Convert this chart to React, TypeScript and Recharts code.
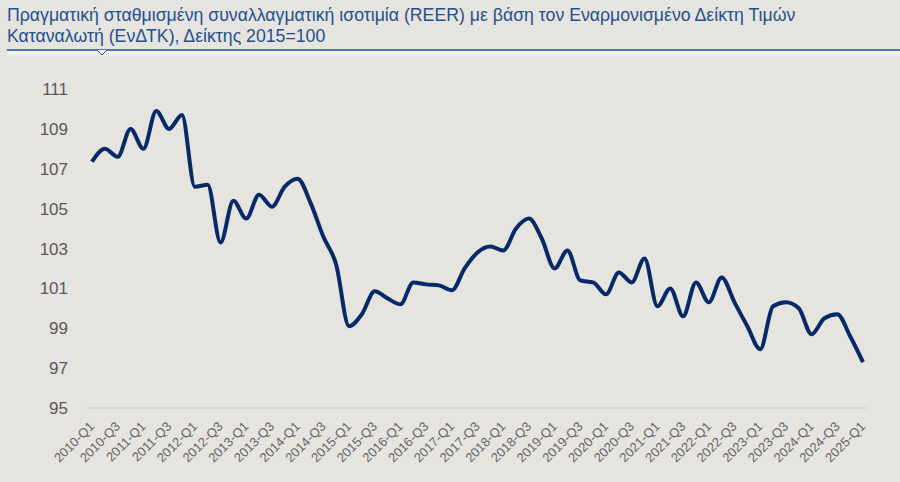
import { LineChart, Line, XAxis, YAxis } from "recharts";

const years = [
    2010, 2011, 2012, 2013, 2014, 2015, 2016, 2017,
    2018, 2019, 2020, 2021, 2022, 2023, 2024, 2025,
];
const quarters = ["Q1", "Q2", "Q3", "Q4"];

// 2010-Q1 .. 2025-Q1
const periods: string[] = years
    .flatMap((y) => quarters.map((q) => `${y}-${q}`))
    .slice(0, 61);

const reer = [
    107.35, 108.0, 107.6, 109.0, 108.0, 109.9, 109.0, 109.7,
    106.1, 106.2, 103.3, 105.4, 104.5, 105.7, 105.1, 106.1,
    106.5, 105.3, 103.6, 102.2, 99.1, 99.7, 100.85, 100.5,
    100.2, 101.3, 101.2, 101.15, 100.9, 102.0, 102.8, 103.1,
    102.9, 104.0, 104.5, 103.5, 102.0, 102.9, 101.4, 101.3,
    100.7, 101.8, 101.3, 102.5, 100.1, 101.0, 99.6, 101.3,
    100.3, 101.55, 100.3, 99.1, 97.95, 100.1, 100.3, 100.0,
    98.7, 99.5, 99.7, 98.6, 97.3,
];

const yTicks = [95, 97, 99, 101, 103, 105, 107, 109, 111];

const data = periods.map((p, i) => ({ period: p, reer: reer[i] }));

const BG = "#e6e4df";
const TITLE = "#24508f";
const FONT = "'Liberation Sans', Arial, sans-serif";

function XTick({ x, y, payload }: any) {
    return (
        <text
            x={x}
            y={y}
            dy="0.35em"
            transform={`rotate(-45, ${x}, ${y})`}
            textAnchor="end"
            fill="#666666"
            fontSize={13}
            fontFamily={FONT}
        >
            {payload.value}
        </text>
    );
}

export default function App() {
    return (
        <div style={{ position: "absolute", left: 0, top: 0, width: 900, height: 482, background: BG, overflow: "hidden" }}>
            <div style={{ position: "absolute", left: 7, top: 5, width: 893, whiteSpace: "nowrap", color: TITLE, fontFamily: FONT, fontSize: 17.7, lineHeight: "21px" }}>
                Πραγματική σταθμισμένη συναλλαγματική ισοτιμία (REER) με βάση τον Εναρμονισμένο Δείκτη Τιμών
                <br />
                Καταναλωτή (ΕνΔΤΚ), Δείκτης 2015=100
            </div>
            <svg width={900} height={60} style={{ position: "absolute", left: 0, top: 0 }}>
                <rect x={7} y={50.5} width={893} height={5} fill="#f1f0ed" />
                <line x1={7} y1={50} x2={900} y2={50} stroke={TITLE} strokeWidth={1.3} />
                <polyline points="97,50 102,55 107,50" fill="#f1f0ed" stroke={TITLE} strokeWidth={1} />
            </svg>
            <div style={{ position: "absolute", left: 0, top: 0 }}>
                <LineChart
                    width={900}
                    height={482}
                    data={data}
                    margin={{ top: 89, right: 32, bottom: 0, left: 0 }}
                >
                    <XAxis
                        dataKey="period"
                        interval={1}
                        tick={<XTick />}
                        tickLine={false}
                        tickSize={0}
                        tickMargin={16}
                        axisLine={{ stroke: "#d6d4cf", strokeWidth: 1.5 }}
                        padding={{ left: 5, right: 5 }}
                        height={74}
                    />
                    <YAxis
                        domain={[95, 111]}
                        ticks={yTicks}
                        interval={0}
                        axisLine={false}
                        tickLine={false}
                        tickSize={0}
                        tickMargin={19}
                        width={87}
                        tick={{ fill: "#595959", fontSize: 17, fontFamily: FONT }}
                    />
                    <Line
                        type="monotone"
                        dataKey="reer"
                        stroke="#062a68"
                        strokeWidth={4}
                        dot={false}
                        isAnimationActive={false}
                    />
                </LineChart>
            </div>
        </div>
    );
}
